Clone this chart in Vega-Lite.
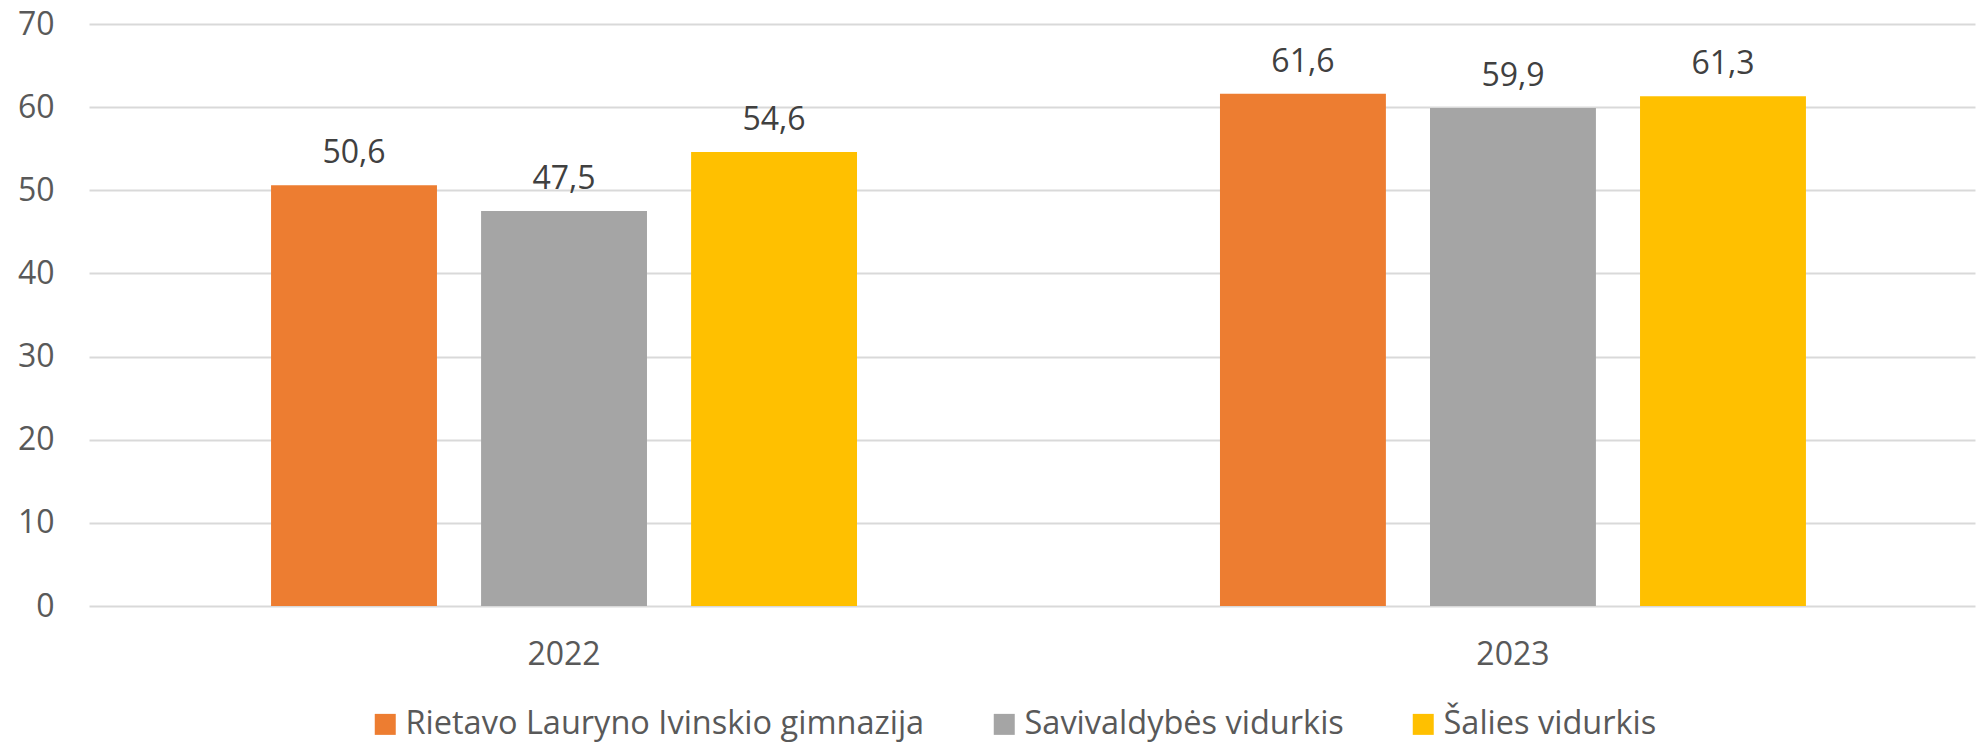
{
  "$schema": "https://vega.github.io/schema/vega-lite/v6.json",
  "autosize": {"type": "none"},
  "width": 1886,
  "height": 582,
  "padding": {"left": 89, "top": 24, "right": 2, "bottom": 138},
  "background": "white",
  "config": {
    "locale": {"number": {"decimal": ",", "thousands": " ", "grouping": [3], "currency": ["", " €"]}},
    "font": "Open Sans",
    "view": {"stroke": null}
  },
  "data": {
    "values": [
      {"year": "2022", "series": "Rietavo Lauryno Ivinskio gimnazija", "value": 50.6},
      {"year": "2022", "series": "Savivaldybės vidurkis", "value": 47.5},
      {"year": "2022", "series": "Šalies vidurkis", "value": 54.6},
      {"year": "2023", "series": "Rietavo Lauryno Ivinskio gimnazija", "value": 61.6},
      {"year": "2023", "series": "Savivaldybės vidurkis", "value": 59.9},
      {"year": "2023", "series": "Šalies vidurkis", "value": 61.3}
    ]
  },
  "encoding": {
    "x": {
      "field": "year", "type": "nominal",
      "scale": {"paddingInner": 0.3825, "paddingOuter": 0.185, "align": 0.5185},
      "axis": {"title": null, "labelAngle": 0, "domain": false, "ticks": false, "tickSize": 0, "labelPadding": 33, "labelFontSize": 32, "labelColor": "#595959", "labelFont": "Open Sans"}
    },
    "xOffset": {
      "field": "series", "type": "nominal",
      "sort": ["Rietavo Lauryno Ivinskio gimnazija", "Savivaldybės vidurkis", "Šalies vidurkis"],
      "scale": {"paddingInner": 0.21, "paddingOuter": 0}
    },
    "y": {
      "field": "value", "type": "quantitative",
      "scale": {"domain": [0, 70], "nice": false},
      "axis": {"title": null, "values": [0, 10, 20, 30, 40, 50, 60, 70], "domain": false, "ticks": false, "tickSize": 0, "labelPadding": 35, "labelFontSize": 32, "labelColor": "#595959", "labelFont": "Open Sans", "gridColor": "#d9d9d9", "gridWidth": 2}
    }
  },
  "layer": [
    {
      "mark": {"type": "bar"},
      "encoding": {
        "color": {
          "field": "series", "type": "nominal",
          "sort": ["Rietavo Lauryno Ivinskio gimnazija", "Savivaldybės vidurkis", "Šalies vidurkis"],
          "scale": {"domain": ["Rietavo Lauryno Ivinskio gimnazija", "Savivaldybės vidurkis", "Šalies vidurkis"], "range": ["#ED7D31", "#A5A5A5", "#FFC000"]},
          "legend": {
            "title": null, "orient": "none", "direction": "horizontal",
            "legendX": 280, "legendY": 684, "padding": 0,
            "symbolType": "square", "symbolSize": 441, "symbolStrokeWidth": 0, "symbolOpacity": 1,
            "labelFontSize": 32.5, "labelColor": "#595959", "labelFont": "Open Sans", "labelOffset": 4,
            "columnPadding": 63, "labelLimit": 1000
          }
        }
      }
    },
    {
      "mark": {"type": "text", "baseline": "alphabetic", "dy": -22, "fontSize": 32, "color": "#404040", "font": "Open Sans"},
      "encoding": {
        "text": {"field": "value", "type": "quantitative", "format": ".1f"}
      }
    }
  ]
}
